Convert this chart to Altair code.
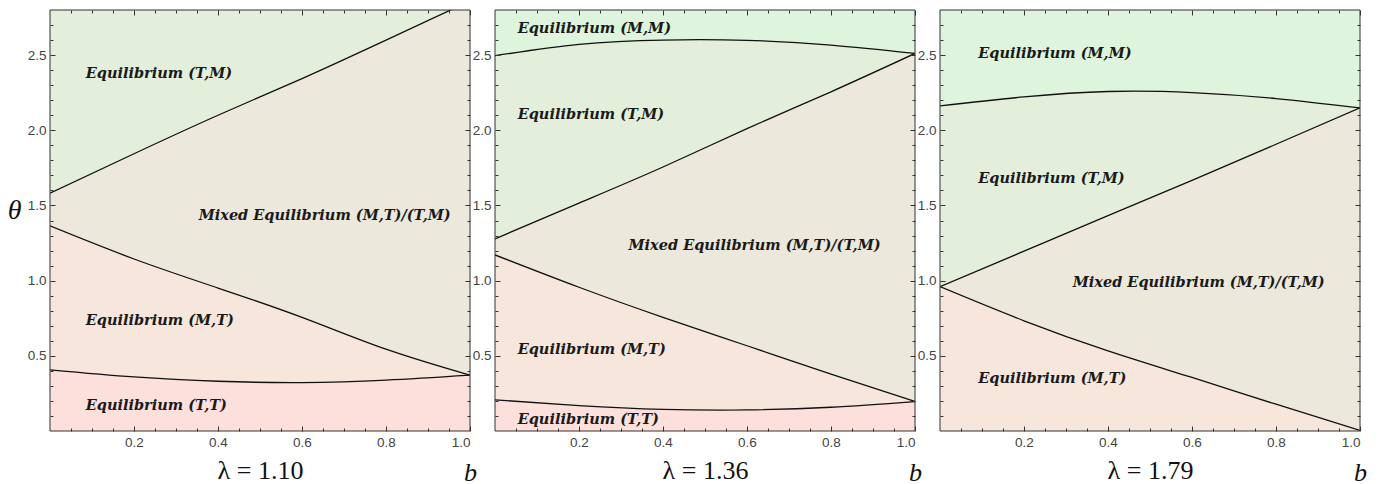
import altair as alt
import pandas as pd

# ---------------- data ----------------
B = [0.0, 0.2, 0.4, 0.6, 0.8, 1.0]

# lambda = 1.10
P1_UPPER = [1.582, 1.844, 2.100, 2.344, 2.600, 2.860]
P1_MIDDLE = [1.364, 1.144, 0.951, 0.756, 0.544, 0.371]
P1_LOWER = [0.407, 0.360, 0.331, 0.322, 0.338, 0.371]

# lambda = 1.36
P2_TOP = [2.496, 2.571, 2.600, 2.598, 2.567, 2.511]
P2_RISE = [1.278, 1.516, 1.756, 2.011, 2.256, 2.511]
P2_FALL = [1.171, 0.956, 0.756, 0.567, 0.378, 0.196]
P2_LOWER = [0.207, 0.169, 0.144, 0.140, 0.158, 0.196]

# lambda = 1.79
P3_TOP = [2.162, 2.222, 2.258, 2.251, 2.211, 2.149]
P3_RISE = [0.960, 1.196, 1.433, 1.667, 1.907, 2.149]
P3_FALL = [0.960, 0.733, 0.533, 0.356, 0.178, 0.004]

LAMBDAS = ["λ = 1.10", "λ = 1.36", "λ = 1.79"]

X_MAJOR = [0.2, 0.4, 0.6, 0.8, 1.0]
X_MINOR = [0.05, 0.1, 0.15, 0.25, 0.3, 0.35, 0.45, 0.5, 0.55, 0.65, 0.7, 0.75, 0.85, 0.9, 0.95]
Y_MAJOR = [0.5, 1.0, 1.5, 2.0, 2.5]
Y_MINOR = [0.1, 0.2, 0.3, 0.4, 0.6, 0.7, 0.8, 0.9, 1.1, 1.2, 1.3, 1.4, 1.6, 1.7, 1.8, 1.9,
           2.1, 2.2, 2.3, 2.4, 2.6, 2.7]
X_DOMAIN = [0.0, 1.0]
Y_DOMAIN = [0.0, 2.8]

L_TM = "Equilibrium (T,M)"
L_MT = "Equilibrium (M,T)"
L_TT = "Equilibrium (T,T)"
L_MM = "Equilibrium (M,M)"
L_MIX = "Mixed Equilibrium (M,T)/(T,M)"

P1_LABELS = [L_TM, L_MIX, L_MT, L_TT]
P1_LABEL_B = [0.085, 0.354, 0.085, 0.085]
P1_LABEL_T = [2.373, 1.433, 0.733, 0.167]

P2_LABELS = [L_MM, L_TM, L_MIX, L_MT, L_TT]
P2_LABEL_B = [0.054, 0.054, 0.318, 0.054, 0.054]
P2_LABEL_T = [2.673, 2.100, 1.229, 0.540, 0.071]

P3_LABELS = [L_MM, L_TM, L_MIX, L_MT]
P3_LABEL_B = [0.091, 0.091, 0.316, 0.091]
P3_LABEL_T = [2.507, 1.673, 0.982, 0.344]

# colours
C_MM = "#dff4dc"
C_TM = "#e4efdb"
C_MIX = "#ece8dc"
C_MT = "#f6e6dc"
C_TT = "#fde0dc"

W, H = 420, 421
FRAME = "#333333"
TICK_FONT = "Liberation Sans"
SERIF = "Liberation Serif"


def tick_axis(orient, values, size, labels=False, title=None, **kw):
    args = dict(orient=orient, values=values, offset=-size, tickSize=size,
                tickColor=FRAME, tickWidth=1, domain=False, grid=False,
                labels=labels, zindex=2)
    if labels:
        args.update(format=".1f", labelFont=TICK_FONT, labelFontSize=13.5,
                    labelColor="#444444", labelPadding=4)
    args["title"] = title
    args.update(kw)
    return alt.Axis(**args)


def panel(curves, colors, bg, lab, lab_b, lab_t, lam, show_theta):
    xs = alt.Scale(domain=X_DOMAIN, nice=False, zero=False)
    ys = alt.Scale(domain=Y_DOMAIN, nice=False, zero=False)
    data = {"b": B}
    for i, c in enumerate(curves):
        data[f"c{i}"] = c
    df = pd.DataFrame(data)

    x_axes = [
        tick_axis("bottom", X_MAJOR, 5, labels=True, title=lam,
                  titleFont=SERIF, titleFontSize=26, titleFontWeight="normal",
                  titleColor="#111111", titleX=W / 2, titleY=52,
                  titleAlign="center", titleBaseline="alphabetic"),
        tick_axis("top", X_MAJOR, 5),
        tick_axis("top", X_MINOR, 3),
    ]
    y_kw = {}
    if show_theta:
        y_kw = dict(titleFont=SERIF, titleFontSize=28, titleFontStyle="italic",
                    titleFontWeight="normal", titleColor="#111111", titleAngle=0,
                    titleX=-41, titleY=200, titleAlign="center", titleBaseline="middle")
    y_axes = [
        tick_axis("left", Y_MAJOR, 5, labels=True, title="θ" if show_theta else None, **y_kw),
        tick_axis("right", Y_MAJOR, 5),
        tick_axis("right", Y_MINOR, 3),
    ]

    layers = []
    for i, col in enumerate(colors):
        xa = x_axes[i] if i < len(x_axes) else None
        ya = y_axes[i] if i < len(y_axes) else None
        layers.append(
            alt.Chart(df).mark_area(color=col, interpolate="natural", clip=True, opacity=1)
            .encode(x=alt.X("b:Q", scale=xs, axis=xa),
                    y=alt.Y(f"c{i}:Q", scale=ys, axis=ya),
                    y2=alt.datum(0))
        )

    long = df.melt(id_vars="b", var_name="curve", value_name="theta")
    layers.append(
        alt.Chart(long).mark_line(color="#111111", strokeWidth=1.3, interpolate="natural", clip=True)
        .encode(x=alt.X("b:Q", scale=xs,
                        axis=tick_axis("bottom", X_MINOR, 3, title="b",
                                       titleFont=SERIF, titleFontSize=26, titleFontStyle="italic",
                                       titleFontWeight="normal", titleColor="#111111",
                                       titleX=W, titleY=52, titleAlign="center",
                                       titleBaseline="alphabetic")),
                y=alt.Y("theta:Q", scale=ys, axis=tick_axis("left", Y_MINOR, 3)),
                detail="curve:N")
    )

    ldf = pd.DataFrame({"b": lab_b, "theta": lab_t, "text": lab})
    layers.append(
        alt.Chart(ldf).mark_text(align="left", baseline="middle", font="DejaVu Serif",
                                 fontStyle="italic", fontWeight="bold", fontSize=14.5,
                                 color="#1a1a1a")
        .encode(x=alt.X("b:Q", scale=xs, axis=None),
                y=alt.Y("theta:Q", scale=ys, axis=None),
                text="text:N")
    )

    fdf = pd.DataFrame({"x0": [X_DOMAIN[0]], "x1": [X_DOMAIN[1]],
                        "y0": [Y_DOMAIN[0]], "y1": [Y_DOMAIN[1]]})
    layers.append(
        alt.Chart(fdf).mark_rect(filled=False, stroke=FRAME, strokeWidth=1)
        .encode(x=alt.X("x0:Q", scale=xs, axis=None), x2="x1:Q",
                y=alt.Y("y0:Q", scale=ys, axis=None), y2="y1:Q")
    )

    return (alt.layer(*layers)
            .resolve_axis(x="independent", y="independent")
            .properties(width=W, height=H,
                        view=alt.ViewBackground(fill=bg, stroke=None)))


p1 = panel([P1_UPPER, P1_MIDDLE, P1_LOWER], [C_MIX, C_MT, C_TT], C_TM,
           P1_LABELS, P1_LABEL_B, P1_LABEL_T, LAMBDAS[0], True)
p2 = panel([P2_TOP, P2_RISE, P2_FALL, P2_LOWER], [C_TM, C_MIX, C_MT, C_TT], C_MM,
           P2_LABELS, P2_LABEL_B, P2_LABEL_T, LAMBDAS[1], False)
p3 = panel([P3_TOP, P3_RISE, P3_FALL], [C_TM, C_MIX, C_MT], C_MM,
           P3_LABELS, P3_LABEL_B, P3_LABEL_T, LAMBDAS[2], False)

chart = (alt.hconcat(p1, p2, p3, spacing=25, bounds="flush")
         .properties(padding={"left": 7, "top": 9, "right": 5, "bottom": 0},
                     background="white")
         .configure_view(stroke=None))

chart.save("out.html", embed_options={"renderer": "svg", "actions": False})
